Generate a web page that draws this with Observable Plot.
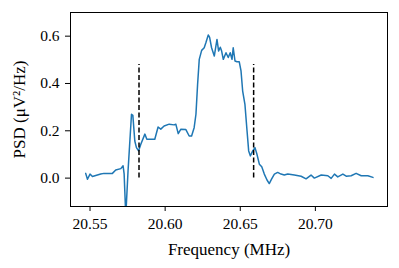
<!DOCTYPE html>
<html>
<head>
<meta charset="utf-8">
<script src="https://cdn.jsdelivr.net/npm/d3@7"></script>
<script src="https://cdn.jsdelivr.net/npm/@observablehq/plot@0.6"></script>
<style>
  html, body { margin: 0; padding: 0; background: white; }
  svg text { font-family: 'Liberation Serif', serif !important; }
</style>
</head>
<body>
<div id="chart"></div>
<script>
const freq = [20.5471, 20.5483, 20.5500, 20.5516, 20.5571, 20.5593, 20.5649, 20.5671, 20.5705, 20.5720,
  20.5727, 20.5738, 20.5753, 20.5776, 20.5785, 20.5798, 20.5809, 20.5823, 20.5838, 20.5865,
  20.5878, 20.5905, 20.5931, 20.5953, 20.5971, 20.5993, 20.6027, 20.6060, 20.6071, 20.6087,
  20.6105, 20.6138, 20.6160, 20.6176, 20.6193, 20.6205, 20.6216, 20.6227, 20.6243, 20.6260,
  20.6271, 20.6287, 20.6296, 20.6309, 20.6327, 20.6345, 20.6356, 20.6367, 20.6376, 20.6387,
  20.6405, 20.6420, 20.6433, 20.6445, 20.6453, 20.6465, 20.6478, 20.6493, 20.6505, 20.6516,
  20.6531, 20.6545, 20.6556, 20.6567, 20.6583, 20.6598, 20.6611, 20.6627, 20.6643, 20.6660,
  20.6678, 20.6693, 20.6709, 20.6727, 20.6749, 20.6771, 20.6793, 20.6816, 20.6860, 20.6905,
  20.6938, 20.6971, 20.6993, 20.7039, 20.7083, 20.7105, 20.7127, 20.7149, 20.7183, 20.7205,
  20.7238, 20.7271, 20.7305, 20.7349, 20.7383];
const psd = [0.020, -0.005, 0.017, 0.007, 0.017, 0.020, 0.020, 0.034, 0.040, 0.052,
  0.018, -0.160, 0.030, 0.270, 0.265, 0.157, 0.129, 0.115, 0.143, 0.186,
  0.164, 0.164, 0.164, 0.216, 0.207, 0.220, 0.228, 0.225, 0.228, 0.188,
  0.207, 0.205, 0.178, 0.178, 0.213, 0.270, 0.397, 0.502, 0.540, 0.551,
  0.572, 0.605, 0.595, 0.551, 0.516, 0.586, 0.537, 0.553, 0.537, 0.502,
  0.530, 0.510, 0.530, 0.502, 0.551, 0.495, 0.492, 0.492, 0.453, 0.368,
  0.312, 0.200, 0.115, 0.094, 0.115, 0.129, 0.101, 0.059, 0.048, 0.017,
  -0.008, -0.023, -0.003, 0.017, 0.024, 0.017, 0.013, 0.017, 0.013, 0.008,
  -0.003, 0.013, 0.000, 0.013, 0.010, -0.001, 0.017, 0.005, 0.017, 0.008,
  0.010, 0.020, 0.010, 0.010, 0.003];
const markerFreqs = [20.5826, 20.6589];
const markerTop = [0.48, 0.48];
const xTicks = [20.55, 20.60, 20.65, 20.70];
const yTicks = [0.0, 0.2, 0.4, 0.6];

const data = freq.map((f, i) => ({f, p: psd[i]}));
const markers = markerFreqs.map((f, i) => ({f, top: markerTop[i]}));
const serif = "'Liberation Serif', serif";

const chart = Plot.plot({
  width: 399,
  height: 268,
  marginLeft: 70,
  marginRight: 12,
  marginTop: 12,
  marginBottom: 62,
  style: {fontFamily: serif, fontSize: "15.5px", color: "black", background: "white"},
  x: {domain: [20.537, 20.748]},
  y: {domain: [-0.12, 0.70]},
  marks: [
    Plot.line(data, {x: "f", y: "p", stroke: "#1f77b4", strokeWidth: 1.5, clip: true}),
    Plot.ruleX(markers, {x: "f", y1: 0, y2: "top", stroke: "black", strokeWidth: 1.5, strokeDasharray: "5,2.5"}),
    Plot.frame({stroke: "black", strokeWidth: 1}),
    Plot.axisX({ticks: xTicks, tickFormat: d3.format(".2f"), tickSize: 5, tickPadding: 6, stroke: "black",
      fontFamily: serif, fontSize: 15.5, fontVariant: "normal", label: null}),
    Plot.axisX({ticks: [], label: "Frequency (MHz)", labelAnchor: "center", labelArrow: "none", labelOffset: 48,
      fontFamily: serif, fontSize: 17}),
    Plot.axisY({ticks: yTicks, tickFormat: d3.format(".1f"), tickSize: 5, tickPadding: 6, stroke: "black",
      fontFamily: serif, fontSize: 15.5, fontVariant: "normal", label: null}),
    Plot.axisY({ticks: [], label: "PSD (μV²/Hz)", labelAnchor: "center", labelArrow: "none", labelOffset: 58,
      fontFamily: serif, fontSize: 17})
  ]
});
document.getElementById("chart").appendChild(chart);
</script>
</body>
</html>
